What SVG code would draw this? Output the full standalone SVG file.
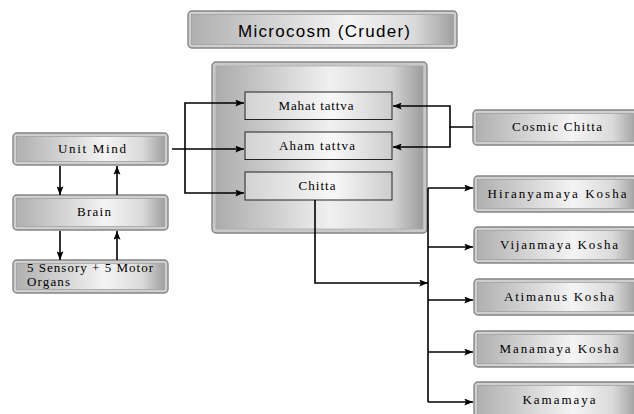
<svg xmlns="http://www.w3.org/2000/svg" width="634" height="414" viewBox="0 0 634 414">
<defs>
<linearGradient id="gBox" x1="0" y1="0" x2="1" y2="0">
<stop offset="0" stop-color="#b0b0b0"/>
<stop offset="0.6" stop-color="#f4f4f4"/>
<stop offset="0.85" stop-color="#dadada"/>
<stop offset="1" stop-color="#a0a0a0"/>
</linearGradient>
<linearGradient id="gBig" x1="0" y1="0" x2="1" y2="0">
<stop offset="0" stop-color="#acacac"/>
<stop offset="0.55" stop-color="#f0f0f0"/>
<stop offset="0.85" stop-color="#d4d4d4"/>
<stop offset="1" stop-color="#9c9c9c"/>
</linearGradient>
<linearGradient id="gInner" x1="0" y1="0" x2="1" y2="0">
<stop offset="0" stop-color="#d2d2d2"/>
<stop offset="0.6" stop-color="#f8f8f8"/>
<stop offset="1" stop-color="#cccccc"/>
</linearGradient>
<marker id="ah" viewBox="0 0 10 8" refX="10" refY="4" markerWidth="10" markerHeight="7" markerUnits="userSpaceOnUse" orient="auto">
<path d="M0,0 L10,4 L0,8 L2,4 Z" fill="#000"/>
</marker>
</defs>
<style>
.outer{fill:#cfcfcf;stroke:#858585;stroke-width:1.4}
.inner{fill:url(#gBox);stroke:#9c9c9c;stroke-width:0.7}
.sub{fill:url(#gInner);stroke:#222;stroke-width:1}
.t{font-family:"Liberation Serif","Times New Roman",serif;font-size:13px;fill:#000;text-anchor:middle}
.title{font-family:"Liberation Sans",Arial,sans-serif;font-size:17px;fill:#000;text-anchor:middle}
.c{fill:none;stroke:#000;stroke-width:1.6}
.ca{fill:none;stroke:#000;stroke-width:1.6;marker-end:url(#ah)}
</style>
<rect width="634" height="414" fill="#fff"/>

<g id="title">
<rect class="outer" x="188" y="11" width="269" height="37" rx="4"/>
<rect class="inner" x="191.5" y="14.5" width="262" height="30"/>
<text class="title" x="324" y="37" textLength="172" lengthAdjust="spacing">Microcosm (Cruder)</text>
</g>

<g id="microcosm">
<rect x="212" y="62" width="215" height="171" rx="4" fill="#c8c8c8" stroke="#858585" stroke-width="1.4"/>
<rect x="216" y="66" width="207" height="163" fill="url(#gBig)" stroke="#a8a8a8" stroke-width="0.7"/>
</g>

<g id="mahat">
<rect class="sub" x="245" y="92" width="147" height="27.5"/>
<text class="t" x="316" y="110" textLength="75" lengthAdjust="spacing">Mahat tattva</text>
</g>
<g id="aham">
<rect class="sub" x="245" y="132" width="147" height="27.5"/>
<text class="t" x="317" y="150" textLength="76" lengthAdjust="spacing">Aham tattva</text>
</g>
<g id="chitta">
<rect class="sub" x="245" y="172" width="147" height="28"/>
<text class="t" x="317" y="190" textLength="37" lengthAdjust="spacing">Chitta</text>
</g>

<g id="unit-mind">
<rect class="outer" x="13" y="133" width="155" height="32" rx="4"/>
<rect class="inner" x="16.5" y="136.5" width="148" height="25"/>
<text class="t" x="92" y="153" textLength="68" lengthAdjust="spacing">Unit Mind</text>
</g>
<g id="brain">
<rect class="outer" x="13" y="195" width="155" height="35" rx="4"/>
<rect class="inner" x="16.5" y="198.5" width="148" height="28"/>
<text class="t" x="94" y="216" textLength="34" lengthAdjust="spacing">Brain</text>
</g>
<g id="organs">
<rect class="outer" x="13" y="260" width="155" height="33" rx="4"/>
<rect class="inner" x="16.5" y="263.5" width="148" height="26"/>
<text class="t" x="27" y="272" style="text-anchor:start" textLength="126" lengthAdjust="spacing">5 Sensory + 5 Motor</text>
<text class="t" x="27" y="286" style="text-anchor:start" textLength="43" lengthAdjust="spacing">Organs</text>
</g>

<g id="cosmic-chitta">
<rect class="outer" x="473" y="110" width="167" height="35" rx="4"/>
<rect class="inner" x="476.5" y="113.5" width="160" height="28"/>
<text class="t" x="557" y="131" textLength="90" lengthAdjust="spacing">Cosmic Chitta</text>
</g>
<g id="hiranyamaya">
<rect class="outer" x="474" y="176" width="166" height="36" rx="4"/>
<rect class="inner" x="477.5" y="179.5" width="159" height="29"/>
<text class="t" x="557" y="198" textLength="139" lengthAdjust="spacing">Hiranyamaya Kosha</text>
</g>
<g id="vijanmaya">
<rect class="outer" x="474" y="227" width="166" height="36" rx="4"/>
<rect class="inner" x="477.5" y="230.5" width="159" height="29"/>
<text class="t" x="559" y="249" textLength="118" lengthAdjust="spacing">Vijanmaya Kosha</text>
</g>
<g id="atimanus">
<rect class="outer" x="474" y="279" width="166" height="36" rx="4"/>
<rect class="inner" x="477.5" y="282.5" width="159" height="29"/>
<text class="t" x="559" y="301" textLength="110" lengthAdjust="spacing">Atimanus Kosha</text>
</g>
<g id="manamaya">
<rect class="outer" x="474" y="331" width="166" height="36" rx="4"/>
<rect class="inner" x="477.5" y="334.5" width="159" height="29"/>
<text class="t" x="559" y="353" textLength="119" lengthAdjust="spacing">Manamaya Kosha</text>
</g>
<g id="kamamaya">
<rect class="outer" x="474" y="382" width="166" height="40" rx="4"/>
<rect class="inner" x="477.5" y="385.5" width="159" height="33"/>
<text class="t" x="559" y="404" textLength="73" lengthAdjust="spacing">Kamamaya</text>
</g>

<g id="connectors">
<path class="ca" d="M172,149 H244"/>
<path class="ca" d="M185,149 V103 H244"/>
<path class="ca" d="M185,149 V193 H244"/>
<path class="ca" d="M473,127 H450 V106 H393"/>
<path class="ca" d="M450,127 V147 H393"/>
<path class="ca" d="M60,166 V195"/>
<path class="ca" d="M117,195 V166"/>
<path class="ca" d="M60,231 V260"/>
<path class="ca" d="M117,260 V231"/>
<path class="ca" d="M315,200 V283 H428"/>
<path class="c" d="M428,402 V188"/>
<path class="ca" d="M428,188 H473"/>
<path class="ca" d="M428,247 H473"/>
<path class="ca" d="M428,300 H473"/>
<path class="ca" d="M428,352 H473"/>
<path class="ca" d="M428,402 H473"/>
</g>
</svg>
